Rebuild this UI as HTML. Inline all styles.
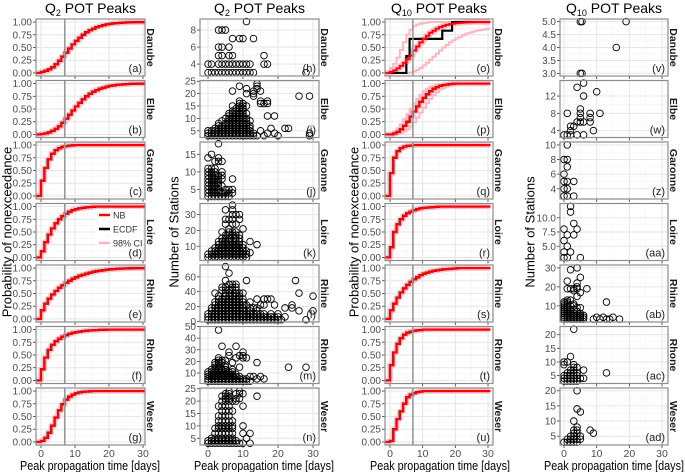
<!DOCTYPE html>
<html><head><meta charset="utf-8"><style>
body{margin:0;background:#fff;}
svg{font-family:"Liberation Sans",sans-serif;display:block;}
</style></head><body>
<svg id="fig" width="685" height="472" viewBox="0 0 685 472"></svg>
<script>
// ---------- DATA ----------
const rivers = ["Danube","Elbe","Garonne","Loire","Rhine","Rhone","Weser"];
const cdfLabels = ["(a)","(b)","(c)","(d)","(e)","(f)","(g)"];
const cdf10Labels = ["(o)","(p)","(q)","(r)","(s)","(t)","(u)"];
const sc2Labels = ["(h)","(i)","(j)","(k)","(l)","(m)","(n)"];
const sc10Labels = ["(v)","(w)","(z)","(aa)","(ab)","(ac)","(ad)"];
const xTicks = [0,10,20,30];
const cdfTicks = [0,0.25,0.5,0.75,1];
const cdfTickLabels = ["0.00","0.25","0.50","0.75","1.00"];
// NB fit, probability at day 0,1,2,...
const fitQ2 = [
 [0.02,0.04,0.07,0.11,0.17,0.24,0.32,0.40,0.48,0.56,0.63,0.69,0.75,0.80,0.84,0.87,0.90,0.92,0.94,0.955,0.965,0.975,0.98,0.985,0.99,0.993,0.995,0.997,0.998,0.999,1],
 [0.01,0.02,0.04,0.07,0.11,0.16,0.23,0.31,0.39,0.47,0.55,0.62,0.69,0.75,0.80,0.84,0.87,0.90,0.92,0.94,0.955,0.965,0.975,0.98,0.985,0.99,0.993,0.995,0.997,0.999,1],
 [0.30,0.55,0.72,0.83,0.90,0.94,0.965,0.98,0.99,0.995,1],
 [0.12,0.30,0.45,0.57,0.67,0.75,0.81,0.86,0.90,0.93,0.95,0.965,0.975,0.985,0.99,0.995,1],
 [0.17,0.30,0.40,0.48,0.55,0.61,0.66,0.71,0.75,0.79,0.82,0.85,0.87,0.89,0.91,0.925,0.94,0.95,0.96,0.968,0.975,0.98,0.985,0.988,0.991,0.994,0.996,0.997,0.998,0.999,1],
 [0.22,0.45,0.60,0.70,0.77,0.82,0.86,0.89,0.915,0.935,0.95,0.96,0.97,0.977,0.983,0.988,0.99,0.993,0.995,0.997,1],
 [0.02,0.08,0.18,0.32,0.48,0.62,0.74,0.83,0.89,0.93,0.96,0.975,0.985,0.99,0.995,1]
];
const fitQ10 = [
 [0.02,0.05,0.09,0.14,0.20,0.27,0.34,0.44,0.52,0.60,0.67,0.73,0.79,0.83,0.87,0.90,0.925,0.945,0.96,0.97,0.978,0.985,0.99,0.993,0.996,0.998,1],
 [0,0.02,0.05,0.10,0.17,0.25,0.35,0.45,0.55,0.64,0.72,0.79,0.85,0.90,0.93,0.955,0.97,0.98,0.99,0.995,1],
 [0.45,0.75,0.88,0.94,0.97,0.985,0.99,1],
 [0.20,0.50,0.65,0.75,0.82,0.87,0.90,0.93,0.95,0.965,0.975,0.98,0.985,0.99,0.995,1],
 [0.17,0.30,0.42,0.52,0.60,0.67,0.73,0.78,0.82,0.86,0.89,0.91,0.93,0.945,0.955,0.965,0.975,0.98,0.985,0.99,0.995,1],
 [0.30,0.55,0.72,0.83,0.90,0.94,0.96,0.975,0.985,0.99,1],
 [0.02,0.25,0.45,0.60,0.75,0.88,0.93,0.96,0.98,0.99,1]
];
const ecdfQ10Danube = [0,0,0,0,0,0.33,0.67,0.67,0.67,0.67,0.67,0.67,0.67,0.67,0.67,0.67,0.83,0.83,0.83,1];
const ciLoQ10 = [
 [0,0,0,0,0,0,0.01,0.03,0.06,0.10,0.15,0.20,0.26,0.32,0.38,0.44,0.50,0.55,0.60,0.64,0.68,0.71,0.74,0.77,0.79,0.81,0.83,0.84,0.85,0.86,0.87],
 [0,0,0.01,0.03,0.06,0.10,0.16,0.24,0.33,0.43,0.53,0.62,0.70,0.77,0.83,0.88,0.91,0.94,0.96,0.97,0.98,0.99,1]
];
const ciHiQ10 = [
 [0.10,0.18,0.30,0.45,0.60,0.75,0.85,0.92,0.95,0.97,0.98,0.99,1],
 [0.02,0.06,0.12,0.20,0.30,0.40,0.50,0.60,0.70,0.78,0.85,0.90,0.94,0.96,0.98,0.99,1]
];
// Scatter data: rows of [stations, [times...]]
const scQ2 = [
 [[3,[0,1,2,3,4,5,6,7,8,9,10,11,12,13,28]],[4,[0,1,3,4,5,6,7,8,9,10,11,12,16,17]],[5,[3,4,6,7,16]],[6,[3,4,6]],[7,[7,9,10,13]],[8,[3,4,5]],[9,[11]]],
 [[3,[0,1,2,3,4,5,6,7,8,9,10,11,12,13,14,16,20,29]],[4,[0,1,2,3,4,5,6,7,8,9,10,11,12,13,17,19,29]],[5,[0,1,2,3,4,5,6,7,8,9,10,11,12,15]],[6,[2,3,4,5,6,7,8,9,10,11,12,18,22,23]],[7,[3,4,5,6,7,8,9,10,11,12]],[8,[3,5,6,7,8,9,10,11]],[9,[4,6,7,8,9,10,11,12]],[10,[5,6,7,8,9,10,11]],[11,[6,7,8,9,10,17,19]],[12,[6,7,8,9,10,11]],[13,[7,8,9,10]],[14,[8,9,10]],[15,[7,9,10,11]],[16,[9,10,15,16,17]],[17,[9,15,17]],[19,[13,26,29]],[20,[11,13]],[21,[7,13,15]],[22,[11,14]],[23,[9,14]],[24,[14]]],
 [[3,[0,1,2,3,4,5,6]],[4,[0,1,2,3,4,5,6,7]],[5,[0,1,2,3,5,6,7]],[6,[0,1,2,3,4]],[7,[0,1,2,3]],[8,[0,1,2,3,4,7]],[9,[0,1,2,3,4]],[10,[0,1,2,4]],[11,[0,1,2]],[13,[2,3,4]],[14,[0,3]],[15,[1]],[18,[3]]],
 [[3,[0,1,2,3,4,5,6,7,8,9,10,11]],[5,[0,1,2,3,4,5,6,7,8,9,10,11]],[7,[1,2,3,4,5,6,7,8,9,10,11]],[9,[2,3,4,5,6,7,8,9,10]],[11,[3,4,5,6,7,8,9,10,14]],[13,[3,4,5,6,7,8,9,12]],[15,[4,5,6,8,9]],[17,[5,6,7,8,9]],[19,[4,6,7,8]],[21,[6,10]],[24,[5,7,8]],[27,[5,6,7,9]],[30,[7,8,9]],[33,[5,7]],[36,[7]],[6,[12]]],
 [[2,[0,1,2,3,4,5,6,7,8,9,10,11,12,13,14,15,16,17,18,19,20,21,28]],[6,[0,1,2,3,4,5,6,7,8,9,10,11,12,13,14,15,16,17,18,19,20,22]],[10,[0,1,2,3,4,5,6,7,8,9,10,11,12,13,14,15,16,18,20]],[14,[1,2,3,4,5,6,7,8,9,10,11,12,14,26,30]],[18,[1,2,3,4,5,6,7,8,9,10,12,13,14,22,24]],[22,[2,3,4,5,6,7,8,9,10,11,15,16,19,24]],[26,[2,3,4,5,6,7,8,9,10,12]],[30,[3,4,5,6,7,8,9,10,14,16,17,18]],[34,[3,5,6,7,8,9,30]],[38,[2,5,6,8,9,10,26]],[42,[4,5,6,7,8]],[46,[4,5,7,8]],[50,[6,7,8]],[55,[5,11,25]],[65,[6]],[74,[5]]],
 [[3,[0,1,2,3,4,5,6,7,8,9,10,11,12]],[5,[0,1,2,3,4,5,6,7,8,9,10,11,14,16]],[7,[0,1,2,3,4,5,6,7,8,9,12,13,15]],[9,[0,1,2,3,4,5,6,7,8]],[11,[0,1,2,3,4,5,6,7]],[13,[1,2,3,4,5,7]],[15,[2,3,5,9,23,28]],[17,[2,3,5]],[19,[2,3,4,7,14]],[21,[3,4,5]],[23,[3,8,10,11]],[25,[6,9,10]],[28,[6,10]],[33,[4,8]],[47,[3]]],
 [[3,[0,1,2,3,4,5,6,7,8,9,10,12]],[4,[0,1,2,3,4,5,6,7,8]],[5,[1,2,3,4,5,6,7,11]],[7,[2,3,4,5,6,7,10,12]],[9,[2,3,4,5,6,7]],[10,[3,4,5,6,7,10]],[12,[3,4,5,6,7]],[14,[3,4,5,6]],[16,[4,5,6,7]],[18,[3,4,5,6,10]],[20,[4,5,6,7,8]],[21,[5,6,8,9]],[22,[4,5,6,14]],[23,[5,6,8,9,10]],[24,[6,9]]]
];
const scQ10 = [
 [[3,[5,5.5]],[4,[16]],[5,[5,5.5,19]]],
 [[3,[0,1,2,4,6]],[4,[2,9]],[5,[2,3]],[6,[4,5,6,8]],[7,[5,8]],[8,[1,5,8,11]],[9,[5]],[12,[6]],[13,[10]],[14,[4]],[15,[6]]],
 [[3,[0,1,3]],[4,[0,1]],[5,[0,1,3]],[6,[0]],[7,[1]],[8,[0,1]],[10,[1]]],
 [[3,[0,1,5]],[4,[0,2]],[5,[1]],[6,[0]],[7,[1,3]],[8,[0,4]],[9,[3]],[11,[2]],[12,[2]]],
 [[3,[0,1,2,3,4,5,6,9,11,13,14,17]],[4,[0,1,2,3,4,5,6,10,12,15]],[5,[0,1,2,3,4,5,6]],[6,[0,1,2,3,5]],[7,[0,1,2,4]],[8,[0,1,2,3]],[9,[0,1,4,5]],[10,[0,1,2,3]],[11,[0,1,3]],[12,[0,1,13]],[13,[1,2]],[15,[4]],[17,[5]],[18,[3]],[19,[1,2,3,4,7]],[20,[4]],[22,[4]],[23,[1]],[25,[5]],[29,[2]],[30,[4]]],
 [[3,[0,1,2,3,4]],[4,[0,1,2,3,4,5,6]],[5,[0,1,2,3,4]],[6,[1,2,3,4,13]],[7,[2,3,6]],[8,[3,4]],[9,[0,3]],[10,[0,1]],[12,[2]],[22,[3]]],
 [[3,[0,1,2,3,4]],[4,[1,2,3,4,5]],[5,[2,3,5]],[6,[3,4,9]],[7,[3,4,8]],[8,[4]],[10,[3]],[13,[5]],[14,[4]],[20,[4]]]
];
const scAxesQ2 = [
 {min:2.6,max:9.3,ticks:[4,6,8],lab:["4","6","8"]},
 {min:2.3,max:25.3,ticks:[5,10,15,20,25],lab:["5","10","15","20","25"]},
 {min:2.3,max:18.5,ticks:[5,10,15],lab:["5","10","15"]},
 {min:1,max:37,ticks:[10,20,30],lab:["10","20","30"]},
 {min:-1,max:76,ticks:[0,20,40,60],lab:["0","20","40","60"]},
 {min:1,max:50,ticks:[10,20,30,40,50],lab:["10","20","30","40","50"]},
 {min:2.3,max:25.3,ticks:[5,10,15,20,25],lab:["5","10","15","20","25"]}
];
const scAxesQ10 = [
 {min:2.9,max:5.1,ticks:[3,3.5,4,4.5,5],lab:["3.0","3.5","4.0","4.5","5.0"]},
 {min:2.4,max:15.6,ticks:[4,8,12],lab:["4","8","12"]},
 {min:2.6,max:10.4,ticks:[4,6,8,10],lab:["4","6","8","10"]},
 {min:2.5,max:12.5,ticks:[5,7.5,10],lab:["5.0","7.5","10.0"]},
 {min:1.5,max:31.5,ticks:[10,20,30],lab:["10","20","30"]},
 {min:2.1,max:23,ticks:[5,10,15,20],lab:["5","10","15","20"]},
 {min:2.1,max:20.9,ticks:[5,10,15,20],lab:["5","10","15","20"]}
];
// ---------- LAYOUT ----------
const svg = document.getElementById('fig');
const NS = "http://www.w3.org/2000/svg";
const cols = [
 {x0:36,x1:145,z:41,t:143,tc:90},{x0:200,x1:319,z:208,t:313,tc:264},
 {x0:385,x1:493,z:390,t:488,tc:440},{x0:560,x1:668,z:564,t:662,tc:614}
];
const rowTop = i => 19 + i*61.5;
const PH = 57;
function mk(tag, attrs, parent){
  const e = document.createElementNS(NS, tag);
  for (const k in attrs) e.setAttribute(k, attrs[k]);
  (parent||svg).appendChild(e); return e;
}
function txt(s, attrs, parent){ const e = mk('text', attrs, parent); e.textContent = s; return e; }

function panel(ci, ri, yMin, yMax, yt, ytl, label, name){
  const c = cols[ci], top = rowTop(ri), bot = top+PH;
  const g = mk('g', {});
  
  
  const sx = v => c.z + (v)*(c.t-c.z)/30;
  const sy = v => bot - (v-yMin)/(yMax-yMin)*PH;
  mk('rect',{x:c.x0,y:top,width:c.x1-c.x0,height:PH,fill:'#fff'},g);
  [5,15,25].forEach(v=>mk('line',{x1:sx(v),x2:sx(v),y1:top,y2:bot,stroke:'#f4f4f4','stroke-width':0.6},g));
  for(let i=0;i<yt.length-1;i++){const m=(yt[i]+yt[i+1])/2; mk('line',{x1:c.x0,x2:c.x1,y1:sy(m),y2:sy(m),stroke:'#f4f4f4','stroke-width':0.6},g);}
  xTicks.forEach(v=>mk('line',{x1:sx(v),x2:sx(v),y1:top,y2:bot,stroke:'#e6e6e6','stroke-width':1},g));
  yt.forEach((v,i)=>{
    mk('line',{x1:c.x0,x2:c.x1,y1:sy(v),y2:sy(v),stroke:'#e6e6e6','stroke-width':1},g);
    mk('line',{x1:c.x0-3,x2:c.x0,y1:sy(v),y2:sy(v),stroke:'#333','stroke-width':0.8},g);
    const t = txt(ytl[i],{x:c.x0-4,y:sy(v)+3.5,'text-anchor':'end','font-size':10,fill:'#4d4d4d'},g);
    
    
  });
  xTicks.forEach(v=>mk('line',{x1:sx(v),x2:sx(v),y1:bot,y2:bot+3,stroke:'#333','stroke-width':0.8},g));
  const st = txt(rivers[ri],{x:c.x1+5,y:top+PH/2,'font-size':10.5,'font-weight':'bold',fill:'#1a1a1a',
     transform:`rotate(90 ${c.x1+5} ${top+PH/2})`,'text-anchor':'middle','dominant-baseline':'central'},g);
  
  
  return {g,sx,sy,top,bot,c,label};
}
function finish(p){
  const lt = txt(p.label,{x:p.c.x1-3,y:p.bot-4,'text-anchor':'end','font-size':11,fill:'#222'},p.g);
  
  
  mk('rect',{x:p.c.x0,y:p.top,width:p.c.x1-p.c.x0,height:PH,fill:'none',stroke:'#8c8c8c','stroke-width':1.2},p.g);
}
function stepPath(p, arr, xStart){
  const val = d => arr[Math.min(d, arr.length-1)];
  let d = `M${p.sx(xStart)},${p.sy(0)} L${p.sx(0)},${p.sy(0)}`;
  for(let k=0;k<=30;k++){
    d += ` L${p.sx(k)},${p.sy(val(k))} L${p.sx(Math.min(k+1,30.7))},${p.sy(val(k))}`;
  }
  return d;
}
function cdfPanel(ci, ri, fit, ecdf, lo, hi, label){
  const p = panel(ci, ri, -0.06, 1.06, cdfTicks, cdfTickLabels, label, 'cdf-panel-'+label.replace(/[()]/g,''));
  const band = mk('path',{d:stepPath(p,fit,-1.3),fill:'none',stroke:'#ffc0cb','stroke-width':5.5,'stroke-linejoin':'round'},p.g);
  
  
  if(lo){
    [lo,hi].forEach(a=>{
      const l = mk('path',{d:stepPath(p,a,-1.3),fill:'none',stroke:'#ffb6c1','stroke-width':2},p.g);
      
      
    });
  }
  const e = mk('path',{d:stepPath(p,ecdf,-1.3),fill:'none',stroke:'#000','stroke-width':2.2},p.g);
  
  
  const f = mk('path',{d:stepPath(p,fit,-1.3),fill:'none',stroke:'#ff0000','stroke-width':2},p.g);
  
  
  const v = mk('line',{x1:p.sx(7),x2:p.sx(7),y1:p.top,y2:p.bot,stroke:'#999','stroke-width':1.6},p.g);
  
  
  finish(p);
  return p;
}
function scPanel(ci, ri, rows, ax, label){
  const p = panel(ci, ri, ax.min, ax.max, ax.ticks, ax.lab, label, 'scatter-panel-'+label.replace(/[()]/g,''));
  rows.forEach(([y,xs])=>xs.forEach(x=>{
    const c = mk('circle',{cx:p.sx(x),cy:p.sy(y),r:3.3,fill:'none',stroke:'#000','stroke-width':0.9},p.g);
    
    
  }));
  finish(p);
}
for(let r=0;r<7;r++){
  cdfPanel(0, r, fitQ2[r], fitQ2[r], null, null, cdfLabels[r]);
  scPanel(1, r, scQ2[r], scAxesQ2[r], sc2Labels[r]);
  cdfPanel(2, r, fitQ10[r], r===0?ecdfQ10Danube:fitQ10[r], r<2?ciLoQ10[r]:null, r<2?ciHiQ10[r]:null, cdf10Labels[r]);
  scPanel(3, r, scQ10[r], scAxesQ10[r], sc10Labels[r]);
}
cols.forEach((c,i)=>{
  xTicks.forEach(v=>{
    const t = txt(String(v),{x:c.z+v*(c.t-c.z)/30,y:457,'text-anchor':'middle','font-size':10.5,fill:'#4d4d4d'});
    
    
  });
  const xt = txt('Peak propagation time [days]',{x:c.tc-70,y:470,'font-size':12.5,fill:'#000',textLength:140,lengthAdjust:'spacingAndGlyphs'});
  
  
  const tt = mk('text',{x:(c.x0+c.x1)/2,y:13,'text-anchor':'middle','font-size':14,fill:'#000'});
  
  
  tt.appendChild(document.createTextNode('Q'));
  const sub = mk('tspan',{'font-size':9,dy:3},tt); sub.textContent = (i<2?'2':'10');
  const rest = mk('tspan',{dy:-3},tt); rest.textContent = ' POT Peaks';
});
[[7,'Probability of nonexceedance'],[174,'Number of Stations'],[354,'Probability of nonexceedance'],[530,'Number of Stations']].forEach(([x,s])=>{
  const t = txt(s,{x:x,y:232,'text-anchor':'middle','font-size':13,fill:'#000',transform:`rotate(-90 ${x} 232)`,'dominant-baseline':'central'});
  
  
});
const lg = mk('g',{});


[['NB','#ff0000'],['ECDF','#000'],['98% CI','#ffb6c1']].forEach(([s,col],i)=>{
  const y = 215 + i*14;
  mk('rect',{x:96,y:y-6,width:47,height:12,fill:'#fff'},lg);
  mk('line',{x1:99,x2:110,y1:y,y2:y,stroke:col,'stroke-width':2.5},lg);
  const t = txt(s,{x:113,y:y+3.5,'font-size':9,fill:'#333'},lg);
  
  
});
</script>
</body></html>
